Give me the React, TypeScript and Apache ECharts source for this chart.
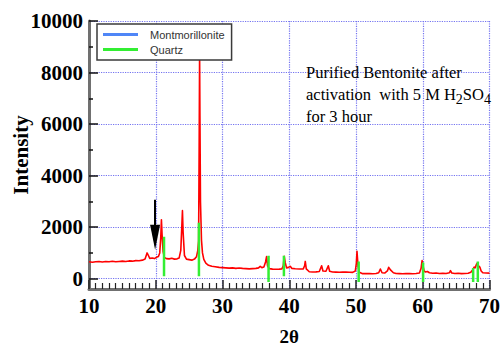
import React, { useEffect, useRef } from 'react';
import * as echarts from 'echarts';

// ---- data ----
const xMin = 10;
const xMax = 70;
const yMin = -400;
const yMax = 10000;
const yMinorTicks = [1000, 3000, 5000, 7000, 9000];

// measured pattern (2θ, intensity)
const sampleX = [
  10, 10.5, 11, 11.5, 12, 12.5, 13, 13.5, 14, 14.5, 15, 15.5, 16, 16.5, 17, 17.5, 18, 18.4, 18.7, 18.9,
  19.1, 19.5, 19.8, 20.1, 20.4, 20.6, 20.75, 20.85, 20.95, 21.1, 21.3, 21.6, 22, 22.4, 22.8, 23.2, 23.5, 23.75, 23.9, 24.0,
  24.1, 24.3, 24.6, 25, 25.4, 25.8, 26.1, 26.3, 26.42, 26.5, 26.57, 26.62, 26.7, 26.85, 27.0, 27.2, 27.5, 27.9, 28.4, 28.9,
  29.5, 30, 30.5, 31, 31.5, 32, 32.5, 33, 33.5, 34, 34.5, 35, 35.4, 35.65, 35.9, 36.2, 36.45, 36.6, 36.75, 37.0,
  37.5, 38, 38.5, 38.9, 39.1, 39.25, 39.4, 39.6, 39.9, 40.15, 40.4, 40.9, 41.5, 42.1, 42.3, 42.4, 42.55, 43, 43.5, 44,
  44.5, 44.85, 45.05, 45.5, 45.85, 46.05, 46.5, 47, 47.5, 48, 48.5, 49, 49.5, 49.9, 50.05, 50.15, 50.3, 50.5, 51, 51.5,
  52, 52.5, 53, 53.4, 53.65, 53.9, 54.3, 54.7, 54.9, 55.2, 55.6, 56, 56.5, 57, 57.5, 58, 58.5, 59, 59.5, 59.75,
  59.9, 60.05, 60.2, 60.4, 60.7, 61, 61.5, 62, 62.5, 63, 63.5, 64, 64.15, 64.35, 64.8, 65.3, 65.8, 66.3, 66.8, 67.2,
  67.5, 67.7, 67.85, 68.05, 68.2, 68.35, 68.55, 68.75, 69, 69.5, 70,
];
const sampleY = [
  660, 640, 655, 670, 650, 665, 660, 675, 655, 670, 680, 665, 690, 680, 700, 695, 720, 760, 1000, 900,
  790, 800, 780, 830, 860, 1000, 1600, 2290, 1700, 1050, 820, 780, 770, 790, 760, 770, 800, 1100, 2000, 2640,
  1800, 900, 760, 740, 720, 760, 850, 1100, 1470, 5000, 8750, 6300, 3000, 1500, 1000, 750, 600, 520, 480, 465,
  440, 430, 420, 410, 420, 400, 415, 400, 390, 380, 390, 400, 420, 480, 430, 450, 650, 860, 500, 390,
  370, 365, 370, 380, 500, 865, 620, 420, 440, 480, 400, 385, 375, 380, 500, 670, 380, 270, 260, 265,
  280, 500, 300, 290, 500, 290, 260, 255, 250, 260, 255, 250, 245, 300, 600, 1060, 500, 250, 195, 200,
  195, 190, 200, 230, 375, 230, 220, 300, 440, 330, 230, 200, 195, 190, 200, 195, 190, 200, 220, 400,
  700, 500, 300, 260, 280, 230, 210, 220, 200, 210, 200, 230, 310, 220, 200, 210, 195, 200, 210, 250,
  350, 450, 420, 560, 610, 500, 450, 300, 230, 220, 215,
];

// Quartz reference lines
const quartzPos = [21.24, 26.47, 36.9, 39.2, 50.4, 60.05, 67.55, 68.25];
const quartzTop = [1630, 2170, 890, 890, 670, 630, 415, 670];
const quartzBase = [90, 90, -130, 90, -130, -130, -130, -130];

// arrow marking the montmorillonite region
const arrowX = 19.9;
const arrowFrom = 3060;
const arrowShaftEnd = 1900;
const arrowHead = 1610;

const serif = 'Liberation Serif';

export default function App() {
  const ref = useRef<HTMLDivElement>(null);

  useEffect(() => {
    if (!ref.current) return;
    const chart = echarts.init(ref.current, undefined, { renderer: 'svg' });

    const sampleData = sampleX.map((x, i) => [x, sampleY[i]]);
    const quartzData: any[] = [];
    quartzPos.forEach((x, i) => {
      quartzData.push([x, quartzBase[i]]);
      quartzData.push([x, quartzTop[i]]);
      quartzData.push([x, '-']);
    });

    const gridColor = '#7474f0';

    chart.setOption({
      animation: false,
      backgroundColor: '#ffffff',
      grid: {
        left: 89,
        right: 14.5,
        top: 21,
        bottom: 62,
        containLabel: false,
        outerBoundsMode: 'none',
      },
      legend: {
        data: ['Montmorillonite', 'Quartz'],
        orient: 'vertical',
        left: 97,
        top: 24,
        z: 10,
        padding: [5, 7, 5, 6],
        itemGap: 4,
        itemWidth: 35,
        itemHeight: 3,
        icon: 'rect',
        backgroundColor: '#ffffff',
        borderColor: '#3a3a3a',
        borderWidth: 1.5,
        borderRadius: 0,
        textStyle: {
          fontFamily: 'Liberation Sans',
          fontSize: 11,
          color: '#333333',
          padding: [0, 0, 0, 7],
        },
      },
      xAxis: {
        type: 'value',
        min: xMin,
        max: xMax,
        interval: 10,
        name: '2θ',
        nameLocation: 'middle',
        nameGap: 38,
        nameMoveOverlap: false,
        nameTextStyle: { fontFamily: serif, fontWeight: 'bold', fontSize: 19, color: '#000' },
        axisLine: { show: true, onZero: false, lineStyle: { color: '#707070', width: 3 } },
        axisTick: { show: true, inside: true, length: 9, lineStyle: { color: '#222', width: 1.5 } },
        minorTick: { show: true, splitNumber: 10, length: 6, lineStyle: { color: '#222', width: 1.2 } },
        axisLabel: {
          margin: 6,
          fontFamily: serif,
          fontWeight: 'bold',
          fontSize: 21,
          color: '#000',
        },
        splitLine: { show: true, lineStyle: { color: gridColor, type: 'dotted', width: 1.2 } },
      },
      yAxis: [
        {
          type: 'value',
          min: yMin,
          max: yMax,
          name: 'Intensity',
          nameLocation: 'middle',
          nameRotate: 90,
          nameGap: 58,
          nameMoveOverlap: false,
          nameTextStyle: { fontFamily: serif, fontWeight: 'bold', fontSize: 21, color: '#000' },
          axisLine: { show: true, onZero: false, lineStyle: { color: '#707070', width: 3 } },
          axisTick: { show: true, inside: true, length: 9, lineStyle: { color: '#111', width: 1.5 } },
          axisLabel: {
            showMinLabel: false,
            margin: 6,
            fontFamily: serif,
            fontWeight: 'bold',
            fontSize: 21,
            color: '#000',
            formatter: (v: number) => String(v),
          },
          splitLine: { show: true, lineStyle: { color: gridColor, type: 'dotted', width: 1.2 } },
        },
        {
          type: 'value',
          position: 'left',
          min: yMin,
          max: yMax,
          axisLine: { show: false },
          axisLabel: { show: false },
          splitLine: { show: false },
          axisTick: {
            show: true,
            inside: true,
            length: 4,
            customValues: yMinorTicks,
            lineStyle: { color: '#111', width: 1.5 },
          },
        },
      ],
      graphic: [
        {
          type: 'text',
          left: 306,
          top: 61,
          z: 100,
          style: {
            text: 'Purified Bentonite after\nactivation  with 5 M H{sub|2}SO{sub|4}\nfor 3 hour',
            fontFamily: serif,
            fontSize: 16.5,
            lineHeight: 22,
            fill: '#000',
            rich: {
              sub: { fontFamily: serif, fontSize: 14, fill: '#000', padding: [11, 0, 0, 0], lineHeight: 22 },
            },
          },
        },
      ],
      series: [
        {
          name: 'Sample',
          type: 'line',
          data: sampleData,
          symbol: 'none',
          lineStyle: { color: '#ff0000', width: 1.6, join: 'round' },
          itemStyle: { color: '#ff0000' },
          z: 3,
          markLine: {
            silent: true,
            symbol: ['none', 'none'],
            label: { show: false },
            lineStyle: { color: '#000', width: 2, type: 'solid' },
            data: [[{ coord: [arrowX, arrowFrom] }, { coord: [arrowX, arrowShaftEnd] }]],
          },
        },
        {
          name: 'Arrow',
          type: 'scatter',
          data: [[arrowX, arrowHead]],
          symbol: 'triangle',
          symbolRotate: 180,
          symbolSize: [10, 25],
          itemStyle: { color: '#000', opacity: 1 },
          silent: true,
          z: 5,
        },
        {
          name: 'Montmorillonite',
          type: 'line',
          data: [],
          symbol: 'none',
          lineStyle: { color: '#4f86f7', width: 3 },
          itemStyle: { color: '#4f86f7' },
        },
        {
          name: 'Quartz',
          type: 'line',
          data: quartzData,
          symbol: 'none',
          connectNulls: false,
          lineStyle: { color: '#33ee33', width: 2.5 },
          itemStyle: { color: '#33ee33' },
          z: 4,
        },
      ],
    });

    return () => chart.dispose();
  }, []);

  return (
    <div
      ref={ref}
      style={{ position: 'fixed', left: 0, top: 0, width: 504, height: 351, background: '#fff' }}
    />
  );
}
